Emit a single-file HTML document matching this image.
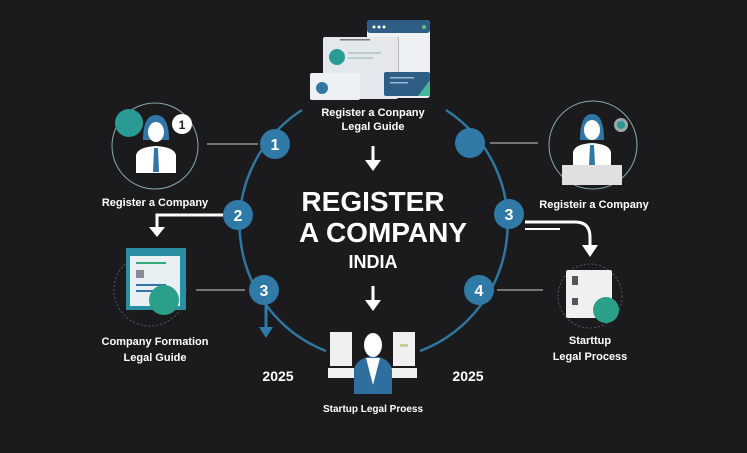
<!DOCTYPE html>
<html><head><meta charset="utf-8"><style>
html,body{margin:0;padding:0;background:#1b1b1d;}
svg{display:block;font-family:"Liberation Sans",sans-serif;}
</style></head><body>
<svg width="747" height="453" viewBox="0 0 747 453" xmlns="http://www.w3.org/2000/svg">
<rect width="747" height="453" fill="#1b1b1d"/>
<!-- arcs -->
<path d="M302 110 A136 136 0 0 0 326 351" fill="none" stroke="#2f77a0" stroke-width="2.5"/>
<path d="M446 110 A136 136 0 0 1 420 351" fill="none" stroke="#2f77a0" stroke-width="2.5"/>
<!-- top doc icon -->
<rect x="367" y="20" width="63" height="78" rx="3" fill="#eef1f4"/>
<rect x="367" y="20" width="63" height="13" rx="3" fill="#2e5d86"/>
<circle cx="374" cy="27" r="1.5" fill="#fff"/><circle cx="379" cy="27" r="1.5" fill="#fff"/><circle cx="384" cy="27" r="1.5" fill="#fff"/>
<circle cx="424" cy="27" r="2" fill="#5fc47c"/>
<rect x="390" y="37" width="9" height="35" fill="#bbb"/>
<rect x="323" y="37" width="75" height="62" rx="2" fill="#e4e8ec"/>
<rect x="340" y="39" width="30" height="1.5" fill="#777"/>
<circle cx="337" cy="57" r="8" fill="#2a9a95"/>
<rect x="348" y="52" width="33" height="2" fill="#bcc"/><rect x="348" y="57" width="25" height="2" fill="#bcc"/>
<rect x="310" y="73" width="50" height="27" rx="2" fill="#eef1f4"/>
<circle cx="322" cy="88" r="6" fill="#2f7aa0"/>
<rect x="384" y="72" width="46" height="24" rx="2" fill="#2e5d86"/>
<polygon points="418,96 430,80 430,96" fill="#47b79c"/>
<rect x="390" y="77" width="24" height="1.5" fill="#9bc"/><rect x="390" y="82" width="18" height="1.5" fill="#9bc"/>
<text x="373" y="116" fill="#fff" font-size="11" font-weight="bold" text-anchor="middle">Register a Conpany</text>
<text x="373" y="130" fill="#fff" font-size="11" font-weight="bold" text-anchor="middle">Legal Guide</text>
<!-- arrows center -->
<path d="M373 146 V162" stroke="#fff" stroke-width="3"/><polygon points="365,160 381,160 373,171" fill="#fff"/>
<path d="M373 286 V302" stroke="#fff" stroke-width="3"/><polygon points="365,300 381,300 373,311" fill="#fff"/>
<text x="373" y="211" fill="#fff" font-size="28" font-weight="bold" text-anchor="middle">REGISTER</text>
<text x="383" y="242" fill="#fff" font-size="28" font-weight="bold" text-anchor="middle">A COMPANY</text>
<text x="373" y="268" fill="#fff" font-size="18" font-weight="bold" text-anchor="middle">INDIA</text>
<!-- nodes -->
<g fill="#2f7aa6"><circle cx="275" cy="144" r="15"/><circle cx="238" cy="215" r="15"/><circle cx="264" cy="290" r="15"/>
<circle cx="470" cy="143" r="15"/><circle cx="509" cy="214" r="15"/><circle cx="479" cy="290" r="15"/></g>
<g fill="#fff" font-size="16" font-weight="bold" text-anchor="middle">
<text x="275" y="150">1</text><text x="238" y="221">2</text><text x="264" y="296">3</text><text x="509" y="220">3</text><text x="479" y="296">4</text></g>
<!-- connectors -->
<g stroke="#ccc" stroke-width="1"><path d="M207 144 H258"/><path d="M490 143 H538"/><path d="M196 290 H245"/><path d="M497 290 H543"/></g>
<!-- left person -->
<circle cx="155" cy="146" r="43" fill="none" stroke="#8aa" stroke-width="1"/>
<circle cx="129" cy="123" r="14" fill="#2a9a95"/>
<circle cx="182" cy="124" r="10" fill="#fff"/><text x="182" y="129" font-size="12" font-weight="bold" text-anchor="middle" fill="#222">1</text>
<path d="M143 140 Q143 115 156 115 Q169 115 169 140 Z" fill="#3077a8"/>
<ellipse cx="156" cy="132" rx="8" ry="10" fill="#fff"/>
<path d="M136 173 V155 Q138 147 156 146 Q174 147 176 155 V173 Z" fill="#fff"/>
<path d="M154 148 L158 148 L159 172 L153 172 Z" fill="#3077a8"/>
<text x="155" y="206" fill="#fff" font-size="11" font-weight="bold" text-anchor="middle">Register a Company</text>
<!-- left arrow 2 -->
<path d="M223 215 H157 V228" stroke="#fff" stroke-width="3" fill="none"/><polygon points="149,227 165,227 157,237" fill="#fff"/>
<!-- left doc -->
<circle cx="150" cy="290" r="36" fill="none" stroke="#556" stroke-dasharray="2 2"/>
<rect x="126" y="248" width="60" height="62" fill="#2a8fa3"/>
<rect x="130" y="256" width="50" height="50" fill="#e8f0f4"/>
<rect x="136" y="262" width="30" height="2" fill="#3a7"/><rect x="136" y="270" width="8" height="8" fill="#889"/>
<rect x="136" y="284" width="30" height="2" fill="#37a"/><rect x="136" y="290" width="24" height="2" fill="#37a"/>
<circle cx="164" cy="300" r="15" fill="#2aa08a"/>
<text x="155" y="345" fill="#fff" font-size="11" font-weight="bold" text-anchor="middle">Company Formation</text>
<text x="155" y="361" fill="#fff" font-size="11" font-weight="bold" text-anchor="middle">Legal Guide</text>
<!-- left blue arrow -->
<path d="M266 305 V330" stroke="#2f7aa6" stroke-width="3"/><polygon points="259,327 273,327 266,338" fill="#2f7aa6"/>
<text x="278" y="381" fill="#fff" font-size="14" font-weight="bold" text-anchor="middle">2025</text>
<text x="468" y="381" fill="#fff" font-size="14" font-weight="bold" text-anchor="middle">2025</text>
<!-- bottom person -->
<rect x="330" y="332" width="22" height="34" fill="#f0f0f0"/><rect x="328" y="368" width="26" height="10" fill="#f0f0f0"/>
<rect x="393" y="332" width="22" height="34" fill="#f0f0f0"/><rect x="391" y="368" width="26" height="10" fill="#f0f0f0"/>
<rect x="400" y="344" width="8" height="3" fill="#cc9"/>
<path d="M354 394 V370 Q356 358 373 356 Q390 358 392 370 V394 Z" fill="#2f6fa0"/>
<path d="M366 358 L373 385 L380 358 Z" fill="#fff"/>
<ellipse cx="373" cy="345" rx="9" ry="12" fill="#fff"/>
<text x="373" y="412" fill="#fff" font-size="10" font-weight="bold" text-anchor="middle">Startup Legal Proess</text>
<!-- right person -->
<circle cx="593" cy="145" r="44" fill="none" stroke="#8aa" stroke-width="1"/>
<circle cx="621" cy="125" r="7" fill="#9aa"/><circle cx="621" cy="125" r="4" fill="#2a9a95"/>
<path d="M580 140 Q580 114 592 114 Q604 114 604 140 Z" fill="#3077a8"/>
<ellipse cx="592" cy="130" rx="8" ry="10" fill="#fff"/>
<path d="M573 168 V152 Q575 144 592 143 Q609 144 611 152 V168 Z" fill="#fff"/>
<path d="M590 145 L594 145 L595 166 L589 166 Z" fill="#3077a8"/>
<rect x="562" y="165" width="60" height="20" fill="#e0e0e0"/>
<text x="594" y="208" fill="#fff" font-size="11" font-weight="bold" text-anchor="middle">Registeir a Company</text>
<!-- right arrow 3 -->
<path d="M525 222 H575 Q590 222 590 237 V247" stroke="#fff" stroke-width="3" fill="none"/>
<path d="M525 229 H560" stroke="#fff" stroke-width="2"/>
<polygon points="582,245 598,245 590,257" fill="#fff"/>
<!-- right doc -->
<circle cx="590" cy="296" r="32" fill="none" stroke="#556" stroke-dasharray="2 2"/>
<rect x="566" y="270" width="46" height="48" rx="2" fill="#f0f0f0"/>
<rect x="572" y="276" width="6" height="9" fill="#555"/><rect x="572" y="298" width="6" height="7" fill="#555"/>
<circle cx="606" cy="310" r="13" fill="#2aa08a"/>
<text x="590" y="344" fill="#fff" font-size="11" font-weight="bold" text-anchor="middle">Starttup</text>
<text x="590" y="360" fill="#fff" font-size="11" font-weight="bold" text-anchor="middle">Legal Process</text>
</svg>
</body></html>
